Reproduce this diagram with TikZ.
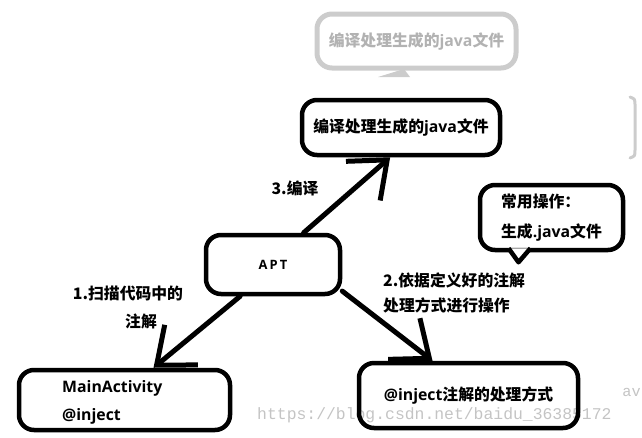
\documentclass[tikz,border=0pt]{standalone}
\usepackage{fontspec}
\setmainfont{Noto Sans CJK SC}
\newfontfamily\en{Open Sans}
\newfontfamily\wm{Liberation Mono}
\usetikzlibrary{arrows.meta,calc}
\definecolor{ghost}{RGB}{204,204,204}
\definecolor{ghosttext}{RGB}{178,178,178}
\definecolor{wmark}{RGB}{196,196,196}
\newcommand{\px}{0.03cm}
\newcommand{\fs}[1]{\fontsize{13.5}{#1}\selectfont}

\begin{document}
\begin{tikzpicture}[x=0.03cm,y=-0.03cm,
    box/.style={draw,line width=4.5*\px,rounded corners=15*\px,inner sep=0pt},
    arr/.style={line width=5*\px,line cap=round,-{Straight Barb[length=32*\px,width=52*\px]}},
    txt/.style={font=\bfseries\fs{16pt},inner sep=0pt}]
\useasboundingbox (0,0) rectangle (642,437);
% faded copy at the top
\node[box,draw=ghost,line width=5*\px,minimum width=199*\px,minimum height=54*\px,
    txt,text=ghosttext] (old) at (416.5,41) {编译处理生成的{\en java}文件};
\fill[ghost] (378,77) -- (410,77) -- (404,69) -- cycle;
\draw[ghost,line width=3*\px,line cap=round] (630,97) .. controls (635,99) .. (635,106)
    -- (635,150) .. controls (635,156) .. (630,158);
% watermark
\node[text=wmark,font=\wm\fontsize{14}{16}\selectfont,anchor=west,inner sep=0pt] (url) at (257,415)
    {https://blog.csdn.net/baidu\_36385172};
\node[text=wmark,font=\wm\fontsize{13}{16}\selectfont,anchor=east,inner sep=0pt] (av) at (641,392) {av};
% boxes
\node[box,txt,minimum width=198*\px,minimum height=55*\px] (gen) at (401,127.5) {编译处理生成的{\en java}文件};
\node[box,minimum width=134*\px,minimum height=59*\px,font=\bfseries\en\fontsize{11}{12}\selectfont] (apt) at (273,264.5) {A\,P\,T};
\node[box,minimum width=211*\px,minimum height=60*\px] (main) at (124.5,400) {};
\node[txt,anchor=west,align=left,font=\bfseries\en\fontsize{13.5}{23.8pt}\selectfont] (maintext) at (62,402) {MainActivity\\@inject};
\node[box,txt,minimum width=219*\px,minimum height=65*\px] (inj) at (468.5,395.5) {{\en @inject}注解的处理方式};
\node[box,txt,align=left,font=\bfseries\fs{25.5pt},minimum width=143*\px,minimum height=65*\px] (tip) at (551.5,217.5)
    {常用操作：\\生成{\en .java}文件};
\filldraw[fill=white,line width=4.5*\px,line join=round] ($(tip.south)+(-43,-4)$) -- ($(tip.south)+(-33,10)$) -- ($(tip.south)+(-21,-4)$);
% arrows
\draw[arr] (apt.46) -- (gen.250);
\draw[arr] (apt.224) -- (main.48);
\draw[arr] (apt.-21) -- (inj.136);
% labels
\node[txt] (l3) at (295,188) {3.编译};
\node[txt] (l1a) at (128,293) {1.扫描代码中的};
\node[txt] (l1b) at (141,321) {注解};
\node[txt,anchor=west,align=left,font=\bfseries\fs{22pt}] (l2) at (383,293) {2.依据定义好的注解\\处理方式进行操作};
\end{tikzpicture}
\end{document}
